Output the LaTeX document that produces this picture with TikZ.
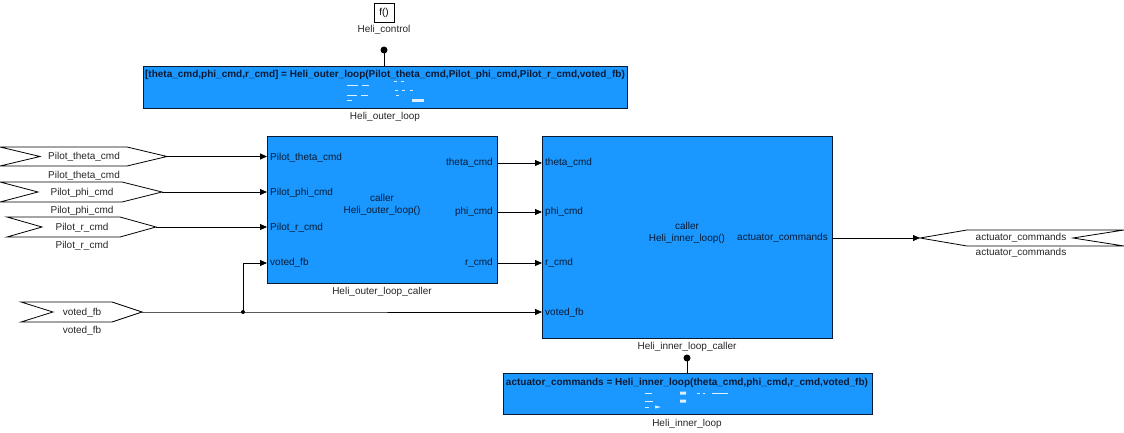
\documentclass[tikz,border=0pt]{standalone}
\usepackage{fontspec}
\setmainfont{Liberation Sans}
\usetikzlibrary{arrows.meta}
\definecolor{blkfill}{HTML}{1A98FF}
\definecolor{blkedge}{HTML}{0A1A33}
\begin{document}
\begin{tikzpicture}[x=1pt,y=-1pt,
  font=\fontsize{10}{12}\selectfont,
  blockbox/.style={draw=blkedge, fill=blkfill, line width=1pt, inner sep=0pt, anchor=north west},
  portshape/.style={draw=black, line width=0.8pt, fill=white},
  conn/.style={draw=black, line width=0.8pt},
  arr/.style={conn, -{Triangle[length=7pt,width=6pt]}},
  lbl/.style={inner sep=0pt, text=black!85},
  plbl/.style={inner sep=0pt, anchor=west, text=blkedge},
  rlbl/.style={inner sep=0pt, anchor=east, text=blkedge},
  ttl/.style={inner sep=0pt, font=\fontsize{10}{12}\selectfont\bfseries, text=blkedge},
  ghost/.style={draw=white!85!blkfill, line width=1pt}]
\useasboundingbox (0,0) rectangle (1124,433);

% function-call trigger
\node[draw=black, line width=0.8pt, fill=white, minimum width=20pt, minimum height=19pt, inner sep=0pt] (fbox) at (384,12.5) {f()};
\node[lbl] (fboxl) at (384,30) {Heli\_control};

% outer loop function block
\node[blockbox, minimum width=484pt, minimum height=42pt] (ol) at (143,66) {};
\node[ttl] (olt) at (385,74.5) {[theta\_cmd,phi\_cmd,r\_cmd] = Heli\_outer\_loop(Pilot\_theta\_cmd,Pilot\_phi\_cmd,Pilot\_r\_cmd,voted\_fb)};
\node[lbl] (oll) at (385,117) {Heli\_outer\_loop};
\coordinate (oltrig) at (384,50);
\fill (oltrig) circle (3.5);
\draw[conn] (oltrig) -- (oltrig |- ol.north);
% tiny unreadable contents of the outer loop block
\draw[ghost] (347,86) -- (358,86) (362,86) -- (369,86) (394,82) -- (397,82) (401,82) -- (404,82)
  (347,96) -- (357,96) (361,96) -- (368,96) (395,91) -- (398,91) (402,91) -- (405,91) (410,91) -- (413,91)
  (347,101) -- (352,101) (396,96) -- (399,96);
\fill[white!85!blkfill] (412,99.5) rectangle (424,102.5);

% outer loop caller
\node[blockbox, minimum width=230pt, minimum height=147pt] (oc) at (267,136) {};
\node[plbl] (oc1) at (270,158) {Pilot\_theta\_cmd};
\node[plbl] (oc2) at (270,193) {Pilot\_phi\_cmd};
\node[plbl] (oc3) at (270,228) {Pilot\_r\_cmd};
\node[plbl] (oc4) at (270,263) {voted\_fb};
\node[rlbl] (oco1) at (493,163) {theta\_cmd};
\node[rlbl] (oco2) at (493,212) {phi\_cmd};
\node[rlbl] (oco3) at (493,263) {r\_cmd};
\node[lbl, align=center, text=blkedge] (occ) at (382,204.5) {caller\\Heli\_outer\_loop()};
\node[lbl] (ocl) at (382,292) {Heli\_outer\_loop\_caller};

% inner loop caller
\node[blockbox, minimum width=290pt, minimum height=202pt] (ic) at (542,136) {};
\node[plbl] (ic1) at (545,163) {theta\_cmd};
\node[plbl] (ic2) at (545,212) {phi\_cmd};
\node[plbl] (ic3) at (545,263) {r\_cmd};
\node[plbl] (ic4) at (545,313) {voted\_fb};
\node[rlbl] (ico) at (828,238) {actuator\_commands};
\node[lbl, align=center, text=blkedge] (icc) at (687,232.5) {caller\\Heli\_inner\_loop()};
\node[lbl] (icl) at (687,347) {Heli\_inner\_loop\_caller};

% inner loop function block
\node[blockbox, minimum width=369pt, minimum height=41pt] (il) at (503,373) {};
\node[ttl] (ilt) at (687,382.5) {actuator\_commands = Heli\_inner\_loop(theta\_cmd,phi\_cmd,r\_cmd,voted\_fb)};
\node[lbl] (ill) at (687,424) {Heli\_inner\_loop};
\coordinate (iltrig) at (687,358);
\fill (iltrig) circle (3.5);
\draw[conn] (iltrig) -- (iltrig |- il.north);
% tiny unreadable contents of the inner loop block
\draw[ghost] (645,393) -- (652,393) (645,401) -- (653,401) (645,407) -- (649,407)
  (697,393) -- (700,393) (703,393) -- (705,393) (712,393) -- (728,393);
\fill[white!85!blkfill] (680,391.5) rectangle (686,394.5) (680,399.5) rectangle (686,402.5);
\fill[white!85!blkfill] (655,405.5) -- (661,407) -- (655,408.5) -- cycle;

% input ports
\draw[portshape] (0,147) -- (127,147) -- (167,156.5) -- (127,166) -- (0,166) -- (40,156.5) -- cycle;
\coordinate (p1) at (167,156.5);
\node[lbl] (p1t) at (84,157) {Pilot\_theta\_cmd};
\node[lbl] (p1l) at (84,176) {Pilot\_theta\_cmd};

\draw[portshape] (0,182) -- (122,182) -- (162,192) -- (122,202) -- (0,202) -- (38,192) -- cycle;
\coordinate (p2) at (162,192);
\node[lbl] (p2t) at (82,192.5) {Pilot\_phi\_cmd};
\node[lbl] (p2l) at (82,211) {Pilot\_phi\_cmd};

\draw[portshape] (7,217) -- (120,217) -- (156,227) -- (120,237) -- (7,237) -- (42,227) -- cycle;
\coordinate (p3) at (156,227);
\node[lbl] (p3t) at (82,227.5) {Pilot\_r\_cmd};
\node[lbl] (p3l) at (82,246) {Pilot\_r\_cmd};

\draw[portshape] (21,302) -- (112,302) -- (142,312) -- (112,322) -- (21,322) -- (53,312) -- cycle;
\coordinate (p4) at (142,312);
\node[lbl] (p4t) at (82,312.5) {voted\_fb};
\node[lbl] (p4l) at (82,331) {voted\_fb};

% output port
\draw[portshape] (920,238) -- (967,230) -- (1124,230) -- (1073,238) -- (1124,246) -- (967,246) -- cycle;
\coordinate (op) at (920,238);
\node[lbl] (opt) at (1021,238) {actuator\_commands};
\node[lbl] (opl) at (1021,253) {actuator\_commands};

% connectors
\draw[arr] (p1) -- (p1 -| oc.west);
\draw[arr] (p2) -- (p2 -| oc.west);
\draw[arr] (p3) -- (p3 -| oc.west);
\coordinate (j) at (243,312);
\draw[arr] (p4) -- (j) -- (j -| ic.west);
\draw[arr] (j) |- (oc4.west -| oc.west);
\fill (j) circle (2);
\draw[arr] (oco1.east -| oc.east) -- (oco1.east -| ic.west);
\draw[arr] (oco2.east -| oc.east) -- (oco2.east -| ic.west);
\draw[arr] (oco3.east -| oc.east) -- (oco3.east -| ic.west);
\draw[arr] (ico.east -| ic.east) -- (op);
\end{tikzpicture}
\end{document}
